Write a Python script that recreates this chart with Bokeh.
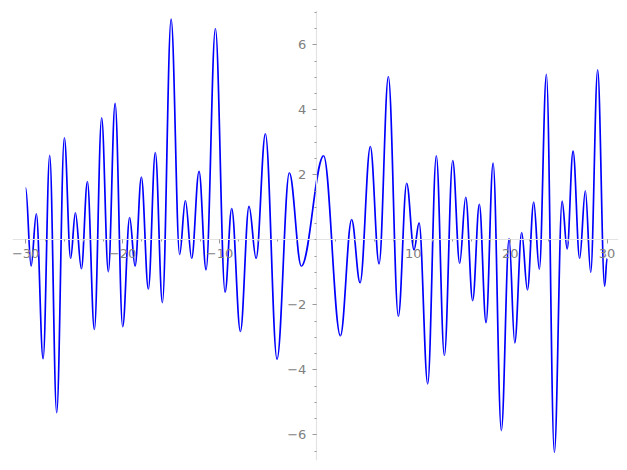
import numpy as np
from bokeh.plotting import figure
from bokeh.models import LinearAxis, FixedTicker, Range1d, ColumnDataSource
from bokeh.embed import file_html
from bokeh.resources import INLINE

# Turning points (local extrema) of the curve
xs = [-30.0, -29.44, -28.90, -28.20, -27.52, -26.80, -26.01, -25.36, -24.87, -24.25,
      -23.63, -22.91, -22.16, -21.47, -20.77, -19.99, -19.27, -18.71, -18.06, -17.34,
      -16.62, -15.89, -14.99, -14.11, -13.52, -12.87, -12.11, -11.38, -10.42, -9.42,
      -8.74, -7.84, -6.95, -6.22, -5.26, -4.06, -2.79, -1.55, 0.75, 2.48,
      3.64, 4.51, 5.57, 6.47, 7.43, 8.46, 9.32, 10.08, 10.60, 11.49,
      12.38, 13.21, 14.07, 14.79, 15.41, 16.13, 16.82, 17.51, 18.24, 19.09,
      19.89, 20.47, 21.19, 21.78, 22.43, 23.01, 23.74, 24.56, 25.36, 25.88,
      26.49, 27.17, 27.76, 28.31, 29.03, 29.75, 30.0]
ys = [1.60, -0.81, 0.80, -3.66, 2.60, -5.32, 3.14, -0.57, 0.83, -0.89,
      1.79, -2.76, 3.75, -0.98, 4.20, -2.67, 0.68, -0.81, 1.93, -1.51,
      2.68, -1.93, 6.79, -0.45, 1.21, -0.57, 2.11, -0.92, 6.50, -1.61,
      0.96, -2.82, 1.03, -0.57, 3.26, -3.67, 2.06, -0.81, 2.58, -2.95,
      0.62, -1.32, 2.87, -0.74, 5.02, -2.35, 1.74, -0.31, 0.52, -4.43,
      2.58, -3.56, 2.44, -0.72, 1.31, -1.87, 1.09, -2.55, 2.36, -5.87,
      0.04, -3.17, 0.22, -1.54, 1.16, -0.90, 5.09, -6.54, 1.19, -0.28,
      2.73, -0.57, 1.51, -1.00, 5.23, -1.43, -0.57]

x_major = [-30, -20, -10, 10, 20, 30]
x_minor = [-30, -28, -26, -24, -22, -20, -18, -16, -14, -12, -10, -8, -6, -4, -2,
           0, 2, 4, 6, 8, 10, 12, 14, 16, 18, 20, 22, 24, 26, 28, 30]
y_major = [-6, -4, -2, 2, 4, 6]
y_minor = [-6.5, -6, -5.5, -5, -4.5, -4, -3.5, -3, -2.5, -2, -1.5, -1, -0.5, 0,
           0.5, 1, 1.5, 2, 2.5, 3, 3.5, 4, 4.5, 5, 5.5, 6, 6.5, 7]

x = np.array(xs)
y = np.array(ys)
k = 0.3642
x0, x1 = x[:-1], x[1:]
y0, y1 = y[:-1], y[1:]
src = ColumnDataSource(dict(x0=x0, y0=y0, x1=x1, y1=y1,
                            cx0=x0 + k * (x1 - x0), cy0=y0,
                            cx1=x1 - k * (x1 - x0), cy1=y1))

p = figure(width=619, height=462, output_backend="svg", toolbar_location=None,
           x_range=Range1d(-31.36, 31.18), y_range=Range1d(-6.79, 7.056),
           x_axis_location=None, y_axis_location=None,
           min_border_left=12, min_border_right=1, min_border_top=10, min_border_bottom=2)
p.outline_line_color = None
p.grid.visible = False
p.background_fill_color = "white"
p.border_fill_color = "white"

def lab(v):
    return str(v).replace("-", "\u2212")

for side, ticks, minor, standoff in (("below", x_major, x_minor, 5), ("left", y_major, y_minor, 6)):
    ax = LinearAxis(fixed_location=0, ticker=FixedTicker(ticks=ticks, minor_ticks=minor))
    ax.major_label_overrides = {t: lab(t) for t in ticks}
    ax.axis_line_color = "#e3e3e3"
    ax.axis_line_width = 1.2
    ax.major_tick_line_color = "#9a9a9a"
    ax.minor_tick_line_color = "#9a9a9a"
    ax.major_tick_in = 0
    ax.major_tick_out = 4
    ax.minor_tick_in = 0
    ax.minor_tick_out = 2
    ax.major_label_text_font = "DejaVu Sans"
    ax.major_label_text_font_size = "13px"
    ax.major_label_text_color = "#808080"
    ax.major_label_standoff = standoff
    p.add_layout(ax, side)

p.bezier(x0="x0", y0="y0", x1="x1", y1="y1", cx0="cx0", cy0="cy0", cx1="cx1", cy1="cy1",
         source=src, line_color="#0000ff", line_width=1.7)

open("out.html", "w").write(file_html(p, INLINE))
